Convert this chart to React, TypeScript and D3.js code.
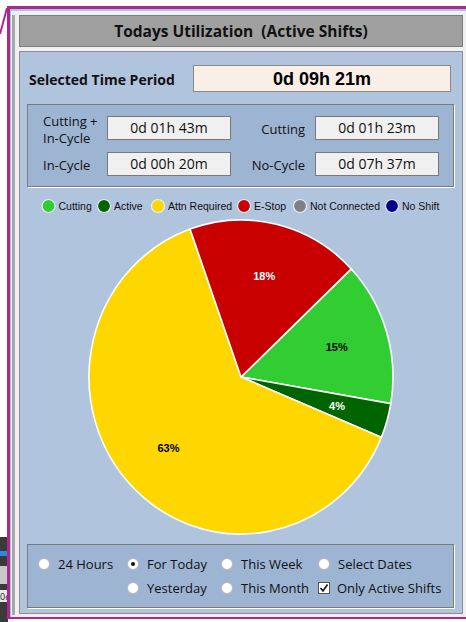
import React from "react";
import * as d3 from "d3";

// utilization for the selected period, in minutes
const categories = ["Cutting", "Active", "Attn Required", "E-Stop", "Not Connected", "No Shift"];
const minutes = [83, 20, 355, 103, 0, 0];
const sliceColors = ["#32cd32", "#006400", "#ffd700", "#c80000", "#808080", "#00008b"];
const labelInk = ["#000", "#fff", "#000", "#fff", "#000", "#fff"];

const periodTotal = "0d 09h 21m";
const timeLabels = [["Cutting +", "In-Cycle"], ["Cutting"], ["In-Cycle"], ["No-Cycle"]];
const timeValues = ["0d 01h 43m", "0d 01h 23m", "0d 00h 20m", "0d 07h 37m"];
const periodOptions = ["24 Hours", "For Today", "This Week", "Select Dates", "Yesterday", "This Month"];

const UI = "'Open Sans', 'Noto Sans', sans-serif";
const PANEL = "#b0c4de";
const GROUP = "#9db5d3";

const W = 466;
const H = 622;

const GroupBox = ({ x, y, w, h }: { x: number; y: number; w: number; h: number }) => (
  <g>
    <rect x={x + 1} y={y + 1} width={w} height={h} fill="none" stroke="#ffffff" />
    <rect x={x} y={y} width={w} height={h} fill={GROUP} stroke="#7a7a7a" />
  </g>
);

const Radio = ({ x, y, label, on }: { x: number; y: number; label: string; on?: boolean }) => (
  <g>
    <circle cx={x} cy={y} r={5.5} fill="#ffffff" stroke="#b8b8b8" />
    {on && <circle cx={x} cy={y} r={2} fill="#111" />}
    <text x={x + 14} y={y + 5} fontFamily={UI} fontSize={13} fill="#111">{label}</text>
  </g>
);

export default function App() {
  const cx = 241;
  const cy = 377;
  const r = 152;
  const squash = 1.033;

  const pie = d3
    .pie<number>()
    .sort(null)
    .value((d) => d)
    .startAngle((46.5 * Math.PI) / 180)
    .endAngle((46.5 * Math.PI) / 180 + 2 * Math.PI);
  const arcs = pie(minutes);
  const arc = d3.arc<d3.PieArcDatum<number>>().innerRadius(0).outerRadius(r);
  const labelArc = d3.arc<d3.PieArcDatum<number>>().innerRadius(100).outerRadius(100);
  const total = d3.sum(minutes);

  // legend positions
  const legendX = [48.5, 104, 158, 244, 300, 392];

  const boxX = [107, 315];
  const boxY = [116, 152];

  return (
    <svg
      width={W}
      height={H}
      style={{ position: "absolute", left: 0, top: 0, display: "block" }}
    >
      {/* surroundings */}
      <rect x={0} y={0} width={W} height={H} fill="#ffffff" />
      <rect x={0} y={537} width={8} height={85} fill="#3a3a3a" />
      <rect x={0} y={551} width={8} height={5} fill="#2a8ae0" />
      <rect x={0} y={566} width={8} height={18} fill="#c8c8c8" />
      <rect x={0} y={590} width={8} height={12} fill="#e8e8e8" />
      <text x={0} y={600} fontFamily={UI} fontSize={9} fill="#222">0d</text>
      <line x1={7} y1={8} x2={0} y2={34} stroke="#b0278f" strokeWidth={2} />

      {/* window frame */}
      <rect x={7} y={6} width={W} height={613} fill="#b0278f" />
      <rect x={10} y={9} width={W} height={608} fill="#f0f0f0" />
      <line x1={10} y1={10} x2={W} y2={10} stroke="#5ca0d8" strokeWidth={1} />
      <line x1={10.5} y1={10} x2={10.5} y2={617} stroke="#9fc3e6" strokeWidth={1} />
      <rect x={12} y={15} width={3} height={600} fill="#a8a8a8" />

      {/* title bar */}
      <rect x={19.5} y={15.5} width={443} height={31} fill="#a0a0a0" stroke="#7e7e7e" />
      <text
        x={241}
        y={37}
        textAnchor="middle"
        fontFamily={UI}
        fontWeight={700}
        fontSize={15.5}
        fill="#111"
        style={{ whiteSpace: "pre" }}
      >
        {"Todays Utilization  (Active Shifts)"}
      </text>

      {/* main panel */}
      <rect x={19.5} y={51.5} width={443} height={562} fill={PANEL} stroke="#8e8e8e" />

      <text x={29} y={85} fontFamily={UI} fontWeight={700} fontSize={14} fill="#111">
        Selected Time Period
      </text>
      <rect x={193.5} y={65.5} width={257} height={26} fill="#faefe6" stroke="#8a8a8a" />
      <text
        x={322}
        y={85}
        textAnchor="middle"
        fontFamily="'Liberation Sans', Arial, sans-serif"
        fontWeight={700}
        fontSize={18}
        fill="#000"
      >
        {periodTotal}
      </text>

      {/* time breakdown */}
      <GroupBox x={27.5} y={104.5} w={426} h={82} />
      {timeValues.map((v, i) => {
        const bx = boxX[i % 2];
        const by = boxY[Math.floor(i / 2)];
        return (
          <g key={v + i}>
            <rect x={bx + 0.5} y={by + 0.5} width={123} height={23} fill="#f0f0f0" stroke="#7a7a7a" />
            <text x={bx + 62} y={by + 17} textAnchor="middle" fontFamily={UI} fontSize={14} fill="#111">
              {v}
            </text>
          </g>
        );
      })}
      {timeLabels.map((lines, i) => {
        const col = i % 2;
        const row = Math.floor(i / 2);
        const anchor = col === 0 ? "start" : "end";
        const tx = col === 0 ? 43 : 305;
        const baseY = boxY[row] + 18 - (lines.length - 1) * 8.5;
        return (
          <text key={i} x={tx} textAnchor={anchor} fontFamily={UI} fontSize={13} fill="#111">
            {lines.map((l, j) => (
              <tspan key={j} x={tx} y={baseY + j * 17}>
                {l}
              </tspan>
            ))}
          </text>
        );
      })}

      {/* legend */}
      {categories.map((c, i) => (
        <g key={c}>
          <circle cx={legendX[i]} cy={206} r={6.5} fill={sliceColors[i]} stroke="#e8eef6" strokeWidth={1.2} />
          <text
            x={legendX[i] + 10}
            y={210}
            fontFamily="'Liberation Sans', Arial, sans-serif"
            fontSize={10.5}
            fill="#111"
          >
            {c}
          </text>
        </g>
      ))}

      {/* pie */}
      <g transform={`translate(${cx},${cy}) scale(1,${squash})`}>
        {arcs.map((a, i) =>
          a.value > 0 ? (
            <path
              key={categories[i]}
              d={arc(a) || ""}
              fill={sliceColors[i]}
              stroke="#ffffff"
              strokeWidth={1.6}
              vectorEffect="non-scaling-stroke"
            />
          ) : null
        )}
      </g>
      {arcs.map((a, i) => {
        if (a.value <= 0) return null;
        const [lx, ly] = labelArc.centroid(a);
        return (
          <text
            key={"l" + categories[i]}
            x={cx + lx}
            y={cy + ly * squash}
            dy="0.35em"
            textAnchor="middle"
            fontFamily="'Liberation Sans', Arial, sans-serif"
            fontWeight={700}
            fontSize={11}
            fill={labelInk[i]}
          >
            {Math.round((a.value / total) * 100) + "%"}
          </text>
        );
      })}

      {/* period selection */}
      <GroupBox x={27.5} y={544.5} w={426} h={63} />
      <Radio x={44} y={564} label={periodOptions[0]} />
      <Radio x={133} y={564} label={periodOptions[1]} on />
      <Radio x={227} y={564} label={periodOptions[2]} />
      <Radio x={324} y={564} label={periodOptions[3]} />
      <Radio x={133} y={588} label={periodOptions[4]} />
      <Radio x={227} y={588} label={periodOptions[5]} />
      <g>
        <rect x={318.5} y={582.5} width={11} height={11} fill="#ffffff" stroke="#555" />
        <path d="M320.5,588 L323,591 L327.5,584.5" fill="none" stroke="#111" strokeWidth={1.6} />
        <text x={337} y={593} fontFamily={UI} fontSize={13} fill="#111">
          Only Active Shifts
        </text>
      </g>
    </svg>
  );
}
